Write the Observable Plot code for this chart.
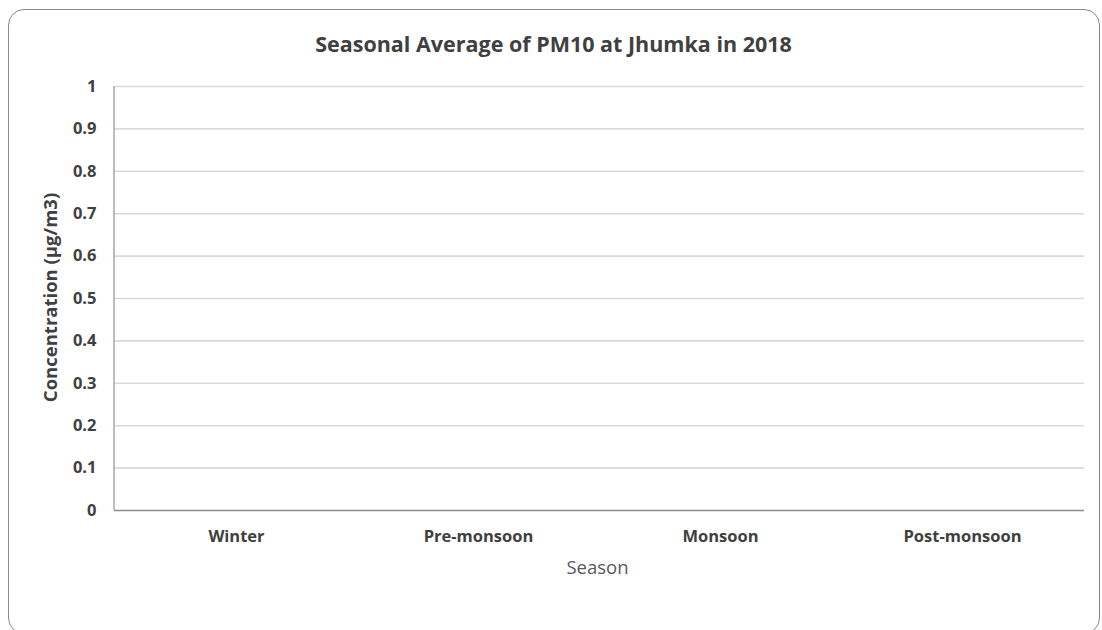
<!DOCTYPE html>
<html>
<head>
<meta charset="utf-8">
<script src="https://cdn.jsdelivr.net/npm/d3@7"></script>
<script src="https://cdn.jsdelivr.net/npm/@observablehq/plot@0.6"></script>
<style>
  html, body { margin: 0; padding: 0; background: #fff; }
  #wrap { position: relative; width: 1102px; height: 630px; overflow: hidden; font-family: "Open Sans", sans-serif; }
  #frame { position: absolute; left: 8px; top: 9px; width: 1092px; height: 625px; box-sizing: border-box;
           border: 1.5px solid #8a8a8a; border-radius: 16px; }
  #chart { position: absolute; left: 0; top: 0; }
</style>
</head>
<body>
<div id="wrap"><div id="frame"></div><div id="chart"></div></div>
<script>
const seasons = ["Winter", "Pre-monsoon", "Monsoon", "Post-monsoon"];
// No bars are visible in the reference: the seasonal averages are missing.
const pm10 = [null, null, null, null];
const yTicks = [0, 0.1, 0.2, 0.3, 0.4, 0.5, 0.6, 0.7, 0.8, 0.9, 1];
const titleText = "Seasonal Average of PM10 at Jhumka in 2018";
const xLabel = "Season";
const yLabel = "Concentration (μg/m3)";

const data = seasons.map((s, i) => ({season: s, value: pm10[i]}));

// left axis line drawn through the y scale
function leftAxisLine(index, scales, values, dimensions) {
  const x = dimensions.marginLeft;
  return d3.create("svg:line")
    .attr("x1", x).attr("x2", x)
    .attr("y1", scales.y(1)).attr("y2", scales.y(0))
    .attr("stroke", "#a6a6a6").attr("stroke-width", 1.5)
    .node();
}

const chart = Plot.plot({
  width: 1102,
  height: 630,
  marginLeft: 114,
  marginRight: 18,
  marginTop: 86,
  marginBottom: 120,
  style: {fontFamily: "'Open Sans', sans-serif", background: "transparent", overflow: "visible"},
  x: {domain: seasons, padding: 0, label: null},
  y: {domain: [0, 1], label: null},
  marks: [
    Plot.gridY(yTicks.filter(d => d > 0), {stroke: "#d9d9d9", strokeOpacity: 1, strokeWidth: 1.6}),
    leftAxisLine,
    Plot.barY(data.filter(d => d.value != null), {x: "season", y: "value", fill: "#4472c4", inset: 60}),
    Plot.ruleY([0], {stroke: "#8c8c8c", strokeWidth: 1.6}),
    Plot.axisY({ticks: yTicks, tickSize: 0, tickPadding: 18, tickFormat: d => String(d),
      fontSize: 16.5, fontWeight: "bold", fill: "#404040", label: null}),
    Plot.axisX({tickSize: 0, tickPadding: 20, fontSize: 16.5, fontWeight: "bold", fill: "#404040", label: null}),
    Plot.text([xLabel], {frameAnchor: "bottom", dy: 58, dx: -2, fontSize: 18.5, fill: "#595959", lineAnchor: "middle"}),
    Plot.text([yLabel], {frameAnchor: "left", dx: -63, dy: -1, rotate: -90, textAnchor: "middle", fontSize: 18.5, fontWeight: "bold", fill: "#404040"}),
    Plot.text([titleText], {frameAnchor: "top", dx: -46, dy: -41, fontSize: 21.5, fontWeight: "bold", fill: "#404040", lineAnchor: "middle"})
  ]
});
document.getElementById("chart").appendChild(chart);
</script>
</body>
</html>
